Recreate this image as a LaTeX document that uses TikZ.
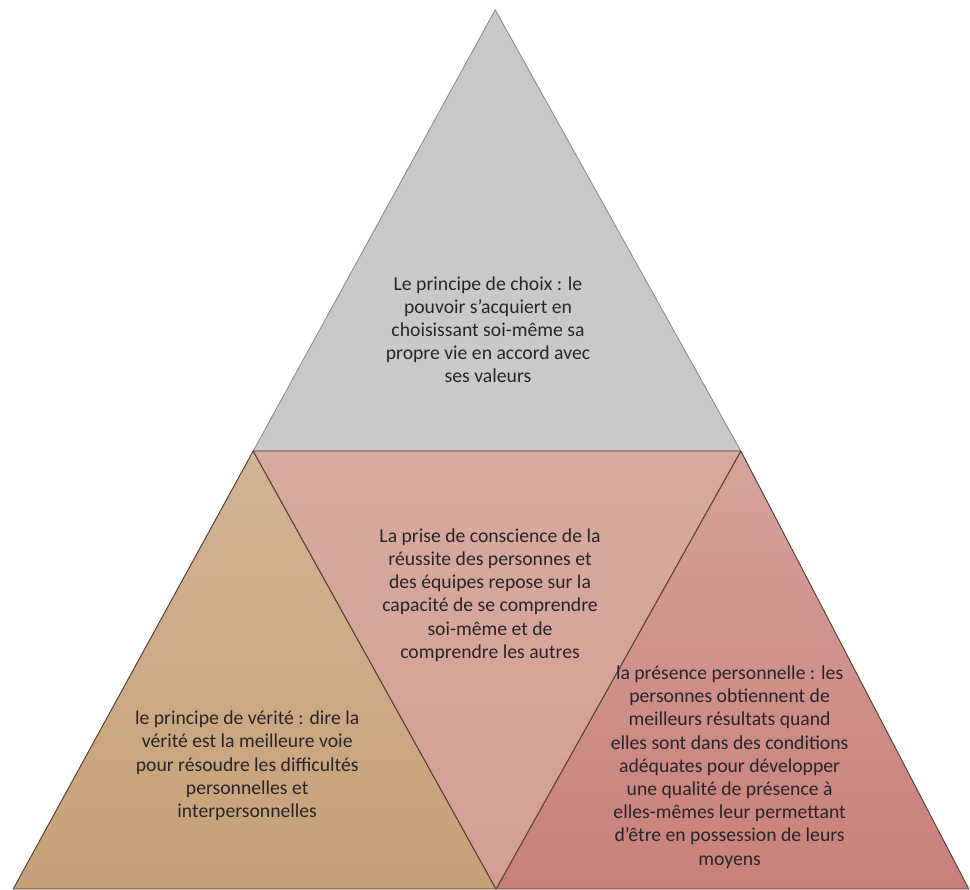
\documentclass[tikz,border=0pt]{standalone}
\usepackage{fontspec}
\setmainfont{Carlito}
\usepackage{tikz}

\definecolor{grayface}{HTML}{C9C9C9}
\definecolor{grayedge}{HTML}{8A8A8A}
\definecolor{tantop}{HTML}{D2B493}
\definecolor{tanbot}{HTML}{C6A179}
\definecolor{rosetop}{HTML}{D7AA9F}
\definecolor{rosebot}{HTML}{D29F94}
\definecolor{redtop}{HTML}{D5A39D}
\definecolor{redbot}{HTML}{C97F79}
\definecolor{brownedge}{HTML}{5E4036}
\definecolor{textgray}{HTML}{262626}

\tikzset{
    facegray/.style={draw=grayedge, fill=grayface, line width=0.6pt, line join=round},
    facecolor/.style={draw=brownedge, line width=0.7pt, line join=round},
    pyrtext/.style={align=center, text=textgray, font=\fontsize{14}{16.5}\selectfont, inner sep=0pt}
}

\begin{document}
\begin{tikzpicture}
        \useasboundingbox (0,0) rectangle (24.25,22.225);

        \coordinate (apex) at (12.38,21.98);
        \coordinate (midl) at (6.33,10.95);
        \coordinate (midr) at (18.52,10.95);
        \coordinate (botl) at (0.33,0.00);
        \coordinate (botm) at (12.40,0.00);
        \coordinate (botr) at (24.22,0.00);

        \draw[facegray] (apex) -- (midl) -- (midr) -- cycle;
        \draw[facecolor, top color=tantop, bottom color=tanbot] (midl) -- (botl) -- (botm) -- cycle;
        \draw[facecolor, top color=redtop, bottom color=redbot] (midr) -- (botm) -- (botr) -- cycle;
        \draw[facecolor, top color=rosetop, bottom color=rosebot] (midl) -- (midr) -- (botm) -- cycle;

        \node[pyrtext] (choix) at (12.20,13.98) {Le principe de choix : le\\ pouvoir s’acquiert en\\ choisissant soi-même sa\\ propre vie en accord avec\\ ses valeurs};
        \node[pyrtext] (conscience) at (12.25,7.35) {La prise de conscience de la\\ réussite des personnes et\\ des équipes repose sur la\\ capacité de se comprendre\\ soi-même et de\\ comprendre les autres};
        \node[pyrtext] (verite) at (6.18,3.08) {le principe de vérité : dire la\\ vérité est la meilleure voie\\ pour résoudre les difficultés\\ personnelles et\\ interpersonnelles};
        \node[pyrtext] (presence) at (18.24,3.05) {la présence personnelle : les\\ personnes obtiennent de\\ meilleurs résultats quand\\ elles sont dans des conditions\\ adéquates pour développer\\ une qualité de présence à\\ elles-mêmes leur permettant\\ d’être en possession de leurs\\ moyens};
    \end{tikzpicture}
\end{document}
